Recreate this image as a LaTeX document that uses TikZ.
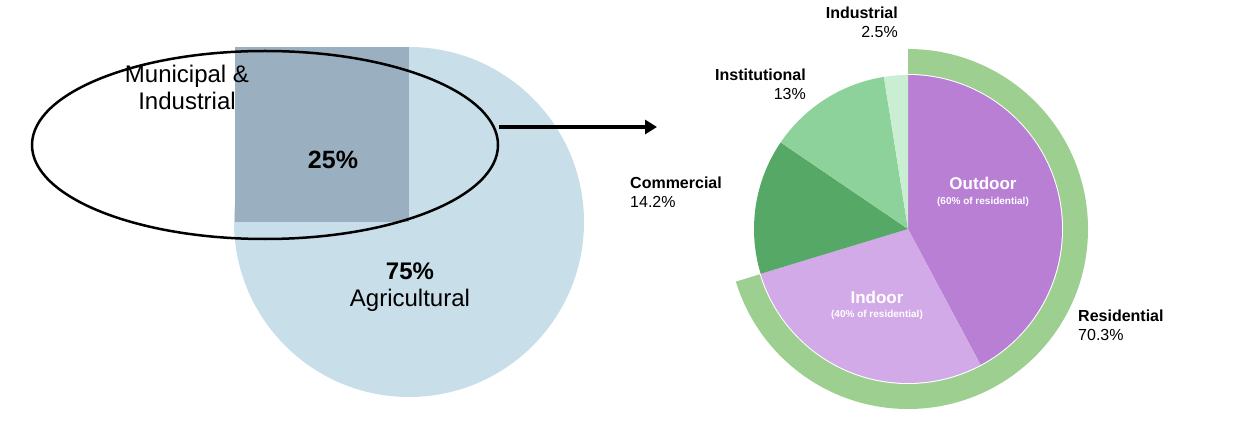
\documentclass[tikz,border=0pt]{standalone}
\usepackage{fontspec}
\setmainfont{Liberation Sans}
\usetikzlibrary{arrows.meta,shapes.geometric}
\definecolor{agri}{HTML}{C8DEE9}
\definecolor{muni}{HTML}{9AB0C1}
\definecolor{outdoor}{HTML}{B87FD4}
\definecolor{indoor}{HTML}{D3AAE8}
\definecolor{commer}{HTML}{55A865}
\definecolor{instit}{HTML}{8ED29B}
\definecolor{indus}{HTML}{C9EED2}
\definecolor{ring}{HTML}{9DCF90}
\tikzset{
  big/.style={font=\fontsize{24}{27}\selectfont, align=center},
  lab/.style={font=\fontsize{16}{19}\selectfont, inner sep=0pt},
  sub/.style={font=\fontsize{10}{12}\selectfont\bfseries, text=white},
}
\newcommand{\pieslice}[4]{\fill[#1] (908,192) -- ++(#2:#4) arc (#2:#3:#4) -- cycle;}
\begin{document}
\begin{tikzpicture}[x=1pt,y=1pt]
\useasboundingbox (0,0) rectangle (1234,421);
% left pie
\fill[agri] (409,199) circle (175);
\fill[muni] (235,199) rectangle (409,374);
\node[big] (munilab) at (187,334) {Municipal \&\\Industrial};
\node[big,font=\fontsize{25}{27}\selectfont\bfseries] (quarter) at (333,261) {25\%};
\node[big] (agrilab) at (410,134) {\textbf{75\%}\\Agricultural};
\node[draw=black, line width=2.5pt, ellipse, minimum width=466, minimum height=188, inner sep=0] (oval) at (265,276) {};
\coordinate (tip) at (657,294);
\draw[line width=4pt, -{Triangle[length=12pt,width=14pt]}] (oval.east |- tip) -- (tip);
% right pie
\pieslice{ring}{90}{-163}{180}
\fill[white] (908,192) circle (155);
\pieslice{outdoor}{90}{-61.9}{154}
\pieslice{indoor}{-61.9}{-163.1}{154}
\pieslice{commer}{196.9}{145.8}{154}
\pieslice{instit}{145.8}{99}{154}
\pieslice{indus}{99}{90}{154}
\node[big,font=\fontsize{17}{19}\selectfont\bfseries,text=white] (outlab) at (983,238) {Outdoor};
\node[sub] (outsub) at (983,219) {(60\% of residential)};
\node[big,font=\fontsize{17}{19}\selectfont\bfseries,text=white] (inlab) at (877,124) {Indoor};
\node[sub] (insub) at (877,106) {(40\% of residential)};
\node[lab, align=right, anchor=north east] (induslab) at (898,414) {\textbf{Industrial}\\2.5\%};
\node[lab, align=right, anchor=north east] (institlab) at (806,352) {\textbf{Institutional}\\13\%};
\node[lab, align=left, anchor=north west] (commerlab) at (630,244) {\textbf{Commercial}\\14.2\%};
\node[lab, align=left, anchor=north west] (reslab) at (1078,111) {\textbf{Residential}\\70.3\%};
\end{tikzpicture}
\end{document}
